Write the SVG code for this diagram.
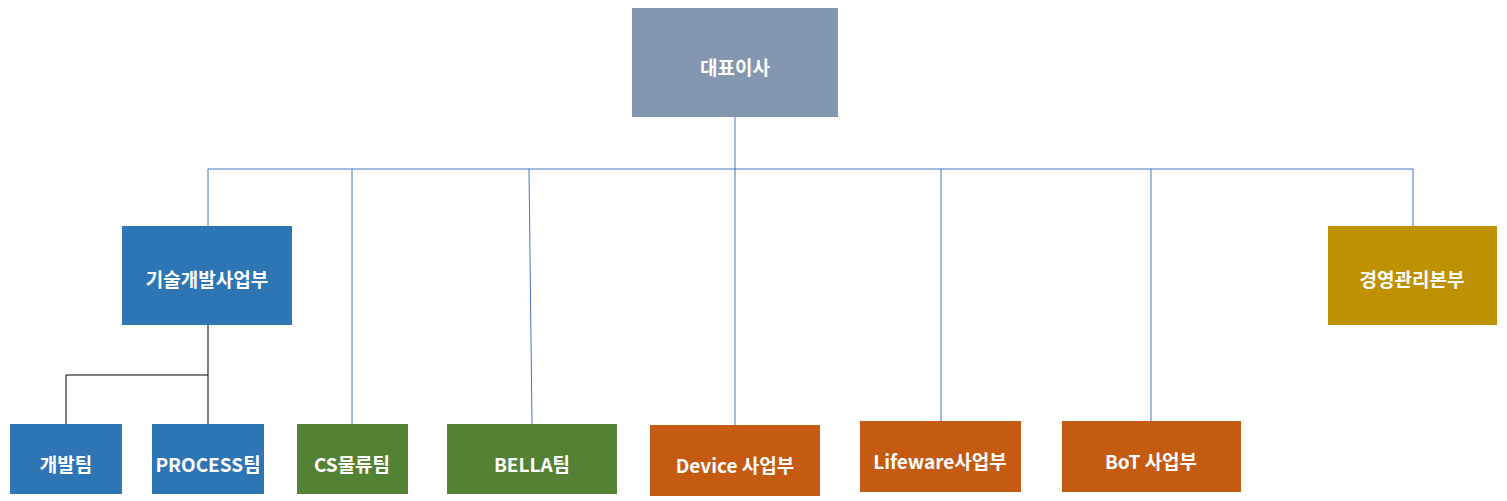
<svg xmlns="http://www.w3.org/2000/svg" width="1507" height="501" viewBox="0 0 1507 501">
<style>
.t{font-family:"Noto Sans CJK KR","Liberation Sans",sans-serif;font-size:19px;font-weight:bold;fill:#fff;text-anchor:middle;dominant-baseline:central}
.c{stroke:#4472C4;stroke-width:1;fill:none}
.k{stroke:#000;stroke-width:1;fill:none}
</style>
<rect width="1507" height="501" fill="#fff"/>
<g id="connectors">
<path class="c" d="M735 117V425M208 169H1413M208 169V226M352 169V424M529 169L532 424M941 169V421M1151 169V421M1413 169V226"/>
<path class="k" d="M208 325V375M66 375H208M66 375V424M208 375V424"/>
</g>
<g id="ceo"><rect x="632" y="8" width="206" height="109" fill="#8497B0"/><text class="t" x="735" y="66">대표이사</text></g>
<g id="tech"><rect x="122" y="226" width="170" height="99" fill="#2E75B6"/><text class="t" x="207" y="278">기술개발사업부</text></g>
<g id="mgmt"><rect x="1328" y="226" width="169" height="99" fill="#BF9000"/><text class="t" x="1412" y="278">경영관리본부</text></g>
<g id="dev"><rect x="10" y="424" width="112" height="70" fill="#2E75B6"/><text class="t" x="66" y="463">개발팀</text></g>
<g id="process"><rect x="152" y="424" width="112" height="70" fill="#2E75B6"/><text class="t" x="208" y="463">PROCESS팀</text></g>
<g id="cs"><rect x="297" y="424" width="111" height="70" fill="#548235"/><text class="t" x="352" y="463">CS물류팀</text></g>
<g id="bella"><rect x="447" y="424" width="170" height="70" fill="#548235"/><text class="t" x="532" y="463">BELLA팀</text></g>
<g id="device"><rect x="650" y="425" width="170" height="71" fill="#C55A11"/><text class="t" x="735" y="464">Device 사업부</text></g>
<g id="lifeware"><rect x="860" y="421" width="161" height="71" fill="#C55A11"/><text class="t" x="940" y="460">Lifeware사업부</text></g>
<g id="bot"><rect x="1062" y="421" width="179" height="71" fill="#C55A11"/><text class="t" x="1151" y="460">BoT 사업부</text></g>
</svg>
